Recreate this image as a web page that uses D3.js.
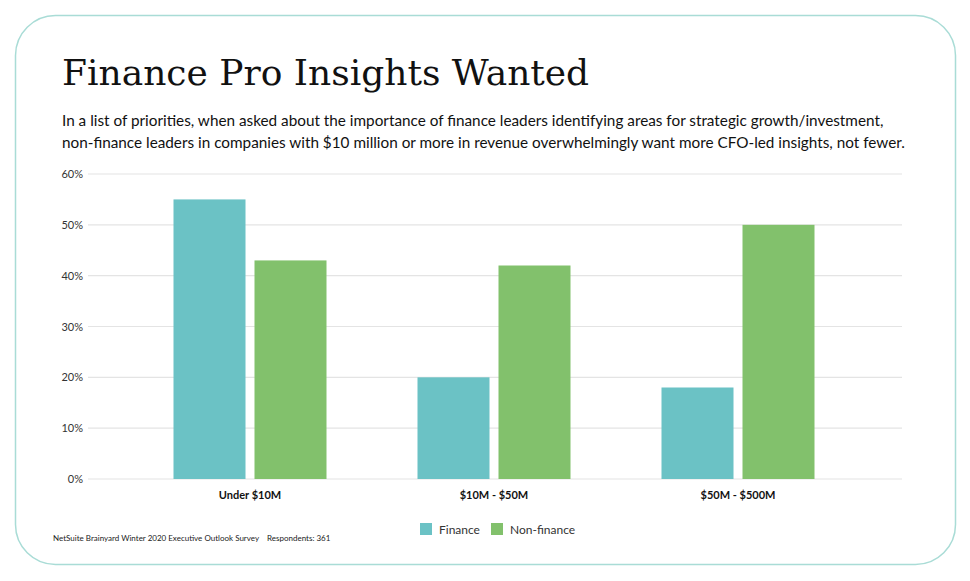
<!DOCTYPE html>
<html><head><meta charset="utf-8">
<script src="https://cdn.jsdelivr.net/npm/d3@7"></script>
<style>body{margin:0;background:#fff;font-family:Lato,"Open Sans",sans-serif}</style>
</head><body>
<svg id="c" width="970" height="581"></svg>
<script>
const categories = ['Under $10M', '$10M - $50M', '$50M - $500M']
const finance = [55, 20, 18]
const nonFinance = [43, 42, 50]
const series = ['Finance', 'Non-finance']
const ticks = [0, 10, 20, 30, 40, 50, 60]
const colors = ['#6bc2c5', '#82c16c']

const svg = d3.select('#c')

svg.append('rect')
    .attr('x', 15.5).attr('y', 15.5).attr('width', 940).attr('height', 549)
    .attr('rx', 40).attr('fill', '#fff').attr('stroke', '#a9dcd6').attr('stroke-width', 1.5)

svg.append('text').attr('x', 62).attr('y', 85)
    .style('font-family', '"DejaVu Serif","Liberation Serif",serif')
    .style('font-size', '36px').attr('fill', '#111')
    .text('Finance Pro Insights Wanted')

const sub = ['In a list of priorities, when asked about the importance of finance leaders identifying areas for strategic growth/investment,',
    'non-finance leaders in companies with $10 million or more in revenue overwhelmingly want more CFO-led insights, not fewer.']
svg.selectAll('text.sub').data(sub).enter().append('text')
    .attr('class', 'sub').attr('x', 62).attr('y', (d, i) => 126 + i * 22)
    .style('font-size', '15.3px').attr('fill', '#111').text(d => d)

const y = d3.scaleLinear().domain([0, 60]).range([479, 174])
const x = d3.scaleBand().domain(categories).range([128, 860])

svg.selectAll('line.grid').data(ticks).enter().append('line')
    .attr('x1', 88).attr('x2', 902)
    .attr('y1', d => y(d)).attr('y2', d => y(d))
    .attr('stroke', '#e4e4e4').attr('stroke-width', 1.2)

svg.selectAll('text.yt').data(ticks).enter().append('text')
    .attr('x', 83).attr('y', d => y(d) + 4).attr('text-anchor', 'end')
    .style('font-size', '11px').attr('fill', '#333').text(d => d + '%')

const bw = 72, gap = 9
const g = svg.selectAll('g.grp').data(categories).enter().append('g')
    .attr('transform', d => `translate(${x(d) + x.bandwidth() / 2},0)`)

g.append('rect')
    .attr('x', -bw - gap / 2).attr('width', bw)
    .attr('y', (d, i) => y(finance[i])).attr('height', (d, i) => y(0) - y(finance[i]))
    .attr('fill', colors[0])

g.append('rect')
    .attr('x', gap / 2).attr('width', bw)
    .attr('y', (d, i) => y(nonFinance[i])).attr('height', (d, i) => y(0) - y(nonFinance[i]))
    .attr('fill', colors[1])

g.append('text').attr('y', 499).attr('text-anchor', 'middle')
    .style('font-size', '11px').style('font-weight', 'bold').attr('fill', '#111')
    .text(d => d)

const lg = svg.selectAll('g.lg').data(series).enter().append('g')
    .attr('transform', (d, i) => `translate(${420 + i * 71},523)`)
lg.append('rect').attr('width', 12).attr('height', 12).attr('fill', (d, i) => colors[i])
lg.append('text').attr('x', 19).attr('y', 11).style('font-size', '12px').attr('fill', '#333').text(d => d)

svg.append('text').attr('x', 53).attr('y', 541)
    .style('font-size', '8px').attr('fill', '#222')
    .text('NetSuite Brainyard Winter 2020 Executive Outlook Survey    Respondents: 361')
    .attr('xml:space', 'preserve')
</script>
</body></html>
